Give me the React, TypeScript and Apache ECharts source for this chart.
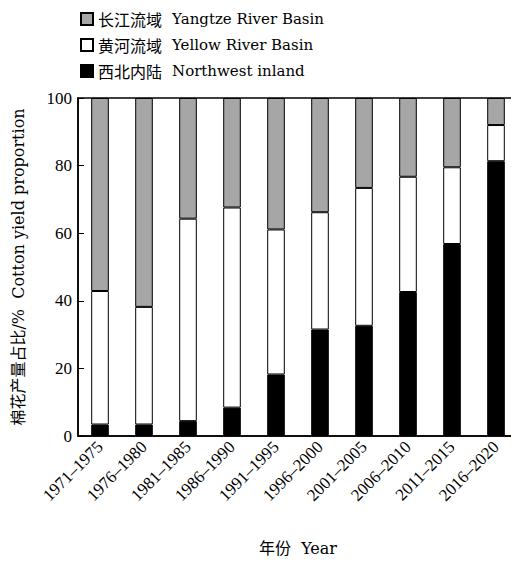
import React, { useEffect, useRef } from "react";
import * as echarts from "echarts";

const categories = ["1971–1975", "1976–1980", "1981–1985", "1986–1990", "1991–1995", "1996–2000", "2001–2005", "2006–2010", "2011–2015", "2016–2020"];
const northwest = [3.4, 3.4, 4.4, 8.4, 18.2, 31.5, 32.6, 42.6, 56.8, 81.3];
const yellow = [39.5, 34.8, 59.9, 59.2, 42.9, 34.7, 40.8, 34.1, 22.7, 10.7];
const yangtze = [57.1, 61.8, 35.7, 32.4, 38.9, 33.8, 26.6, 23.3, 20.5, 8.0];
const yTicks = [0, 20, 40, 60, 80, 100];

const serif = "'DejaVu Serif', 'Noto Sans CJK SC', serif";
const tickFont = "'Liberation Serif', 'Noto Sans CJK SC', serif";

export default function App() {
  const ref = useRef<HTMLDivElement>(null);
  useEffect(() => {
    const chart = echarts.init(ref.current!, null, { renderer: "svg" });
    const names = {
      yz: "长江流域|Yangtze River Basin",
      yr: "黄河流域|Yellow River Basin",
      nw: "西北内陆|Northwest inland",
    };
    const barStyle = (color: string) => ({ color, borderColor: "#000", borderWidth: 1 });
    chart.setOption({
      animation: false,
      grid: { left: 78, right: 1, top: 98, bottom: 136, show: true, borderColor: "#000", borderWidth: 1.5, backgroundColor: "transparent" },
      legend: {
        orient: "vertical",
        left: 75,
        top: 6,
        itemWidth: 12,
        itemHeight: 12,
        itemGap: 10,
        icon: "rect",
        data: [names.yz, names.yr, names.nw],
        formatter: (n: string) => {
          const [cn, en] = n.split("|");
          return `{cn|${cn}}{en|${en}}`;
        },
        textStyle: {
          rich: {
            cn: { fontFamily: "'Noto Sans CJK SC', serif", fontSize: 16, color: "#000", padding: [0, 10, 0, 0] },
            en: { fontFamily: serif, fontSize: 15, color: "#000" },
          },
        },
      },
      xAxis: {
        type: "category",
        data: categories,
        axisLine: { lineStyle: { color: "#000", width: 1.5 } },
        axisTick: { inside: true, length: 7, lineStyle: { color: "#000" } },
        axisLabel: { rotate: 45, fontFamily: tickFont, fontSize: 17, color: "#000", margin: 8 },
        name: "年份  Year",
        nameLocation: "middle",
        nameGap: 104,
        nameTextStyle: { fontFamily: serif, fontSize: 16, color: "#000" },
      },
      yAxis: {
        type: "value",
        min: 0,
        max: 100,
        interval: 20,
        axisLine: { show: true, lineStyle: { color: "#000", width: 1.5 } },
        axisTick: { show: true, inside: true, length: 6, lineStyle: { color: "#000" } },
        splitLine: { show: false },
        axisLabel: {
          fontFamily: tickFont,
          fontSize: 17,
          color: "#000",
          margin: 6,
          formatter: (v: number) => (yTicks.includes(v) ? String(v) : ""),
        },
        name: "棉花产量占比/%  Cotton yield proportion",
        nameLocation: "middle",
        nameGap: 52,
        nameTextStyle: { fontFamily: serif, fontSize: 16, color: "#000" },
      },
      series: [
        { name: names.nw, type: "bar", stack: "t", data: northwest, barWidth: "40%", itemStyle: barStyle("#000") },
        { name: names.yr, type: "bar", stack: "t", data: yellow, barWidth: "40%", itemStyle: barStyle("#fff") },
        { name: names.yz, type: "bar", stack: "t", data: yangtze, barWidth: "40%", itemStyle: barStyle("#a6a6a6") },
      ],
    });
    return () => chart.dispose();
  }, []);
  return <div ref={ref} style={{ width: 519, height: 572, margin: -8 }} />;
}
